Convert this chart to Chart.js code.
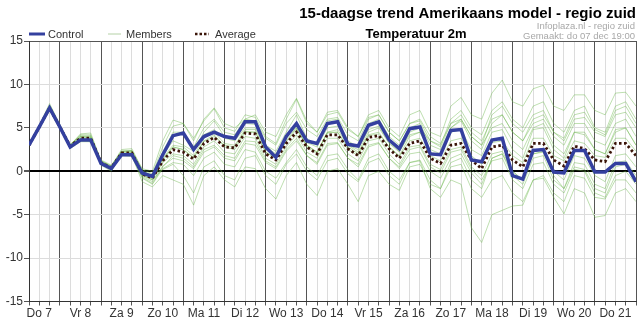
<!DOCTYPE html>
<html>
<head>
<meta charset="utf-8">
<script src="https://cdn.jsdelivr.net/npm/chart.js@4/dist/chart.umd.min.js"></script>
<style>
  html, body { margin: 0; padding: 0; background: #fff; }
  canvas { display: block; }
</style>
</head>
<body>
<canvas id="chart" width="640" height="323"></canvas>
<script>
// day labels, one per day (centred at noon)
const dayLabels = ['Do 7', 'Vr 8', 'Za 9', 'Zo 10', 'Ma 11', 'Di 12', 'Wo 13', 'Do 14',
  'Vr 15', 'Za 16', 'Zo 17', 'Ma 18', 'Di 19', 'Wo 20', 'Do 21'];

// 6-hourly values, first point do 7 06:00
const control = [3.0, 5.1, 7.3, 5.1, 2.8, 3.6, 3.6, 0.9, 0.3, 1.9, 1.9, -0.2, -0.6, 1.9, 4.1, 4.4, 2.5, 4.0, 4.5, 4.0,
  3.8, 5.7, 5.7, 2.8, 1.6, 4.0, 5.5, 3.5, 3.2, 5.5, 5.7, 3.1, 2.9, 5.3, 5.7, 3.6, 2.6, 4.9, 5.1, 2.0,
  1.9, 4.7, 4.8, 1.3, 1.1, 3.6, 3.8, -0.5, -0.9, 2.4, 2.5, -0.1, -0.2, 2.4, 2.4, -0.1, -0.1, 0.9, 0.9, -1.2];

const average = [3.0, 5.1, 7.3, 5.1, 2.9, 3.8, 3.8, 1.0, 0.4, 2.1, 2.1, -0.3, -0.8, 1.2, 2.5, 2.2, 1.4, 3.2, 3.9, 2.8,
  2.7, 4.4, 4.3, 2.0, 1.3, 3.2, 4.5, 2.8, 2.0, 4.2, 4.2, 2.6, 1.8, 3.9, 4.1, 2.6, 1.5, 3.2, 3.5, 1.5,
  0.9, 3.0, 3.2, 1.3, 0.3, 2.8, 3.0, 1.3, 0.5, 3.2, 3.2, 1.3, 0.6, 2.9, 2.6, 1.3, 1.1, 3.2, 3.2, 1.8];

const member01 = [3.0, 5.2, 7.6, 5.3, 3.0, 4.3, 4.4, 1.2, 0.6, 2.5, 2.6, 0.2, -0.3, 2.8, 5.2, 5.5, 3.8, 5.8, 7.2, 5.0,
  4.6, 6.5, 6.2, 4.0, 3.2, 6.0, 8.3, 5.5, 4.5, 6.5, 6.8, 4.8, 4.0, 6.5, 7.0, 5.0, 4.0, 6.5, 7.0, 4.5,
  4.0, 7.5, 8.5, 6.5, 6.0, 9.0, 10.5, 8.0, 7.5, 9.5, 9.9, 7.5, 7.0, 8.8, 8.8, 7.0, 6.5, 9.0, 9.1, 7.5];
const member02 = [2.9, 5.0, 7.1, 5.0, 2.7, 3.5, 3.4, 0.8, 0.1, 1.8, 1.7, -0.8, -1.5, 0.3, 1.0, 0.8, -0.5, 1.5, 2.2, 0.8,
  0.5, 2.5, 2.2, 0.0, -0.8, 1.0, 2.5, 0.5, -0.5, 1.8, 2.0, 0.2, -1.0, 1.5, 2.0, 0.0, -1.0, 1.0, 1.2, -2.0,
  -3.0, -1.0, -1.5, -6.5, -8.2, -5.0, -4.5, -4.0, -3.9, -1.0, -0.5, -2.5, -3.5, -0.5, -0.8, -3.0, -3.2, -1.0, -1.0, -2.5];
const member03 = [3.0, 5.0, 7.2, 5.0, 2.8, 3.6, 3.5, 0.7, 0.0, 1.9, 1.8, -1.2, -1.8, -0.5, -1.0, -1.5, -3.9, -0.5, 0.5, -1.0,
  -1.8, 0.5, 0.3, -2.0, -3.2, -0.5, 1.0, -1.5, -2.8, 0.0, 0.3, -1.5, -3.5, -0.5, 0.0, -1.5, -2.2, 0.5, 0.8, -1.5,
  -2.0, 1.0, 1.5, -1.0, -2.0, 1.5, 2.0, -0.5, -1.5, 1.5, 1.8, -1.0, -2.0, 1.0, 0.8, -1.5, -2.0, 1.0, 1.2, -0.5];
const member04 = [3.1, 5.3, 7.8, 5.4, 3.1, 4.1, 4.0, 1.3, 0.7, 2.3, 2.4, 0.0, -0.5, 1.8, 3.5, 3.0, 2.3, 4.5, 5.8, 4.0,
  3.8, 5.5, 5.4, 3.0, 2.3, 4.5, 6.5, 3.8, 3.0, 5.8, 6.0, 3.5, 2.8, 5.5, 6.0, 4.0, 3.0, 5.0, 5.5, 3.0,
  2.5, 5.0, 6.0, 4.0, 3.0, 6.5, 7.5, 5.5, 4.5, 6.5, 7.0, 4.5, 3.5, 6.0, 6.2, 4.5, 4.0, 6.5, 6.8, 5.0];
const member05 = [2.9, 4.9, 7.0, 4.9, 2.6, 3.4, 3.4, 0.9, 0.2, 1.9, 2.0, -0.6, -1.2, 0.6, 1.5, 1.2, 0.3, 2.2, 2.8, 1.5,
  1.2, 3.2, 3.0, 1.0, 0.3, 2.3, 3.5, 1.8, 0.8, 3.0, 3.2, 1.5, 0.5, 2.8, 3.2, 1.5, 0.3, 2.0, 2.2, 0.0,
  -0.8, 1.5, 2.0, -0.2, -1.5, 1.5, 2.0, 0.0, -1.0, 2.0, 2.3, 0.0, -1.0, 1.8, 1.5, -0.5, -1.2, 1.8, 2.0, 0.5];
const member06 = [3.0, 5.1, 7.4, 5.2, 2.8, 3.9, 3.9, 1.0, 0.3, 2.0, 2.2, -0.2, -0.7, 2.0, 4.0, 4.3, 2.8, 4.2, 4.8, 3.8,
  3.5, 5.0, 5.0, 2.8, 2.0, 4.0, 5.2, 3.3, 2.8, 5.0, 5.2, 3.0, 2.5, 4.8, 5.2, 3.3, 2.3, 4.2, 4.5, 2.2,
  1.8, 4.5, 4.8, 2.5, 1.8, 4.5, 4.8, 2.5, 1.5, 4.8, 5.0, 2.5, 1.5, 4.5, 4.2, 2.5, 2.0, 4.8, 5.0, 3.0];
const member07 = [3.0, 5.0, 7.3, 5.1, 2.9, 3.7, 3.7, 0.9, 0.3, 2.1, 2.0, -0.4, -1.0, 0.2, 0.8, -0.5, -2.5, 0.5, 1.2, -0.5,
  -1.0, 1.5, 1.8, -0.5, -1.5, 0.8, 2.0, 0.0, -1.0, 1.2, 1.5, -0.3, -1.2, 1.0, 1.5, -0.5, -1.5, 1.0, 1.3, -1.0,
  -2.0, 0.5, 0.8, -2.0, -3.0, -1.0, -0.5, -2.5, -3.5, -1.0, -0.8, -3.0, -4.9, -2.0, -2.5, -5.3, -5.1, -2.5, -2.0, -3.5];
const member08 = [3.0, 5.1, 7.5, 5.2, 3.0, 4.0, 4.1, 1.1, 0.5, 2.2, 2.3, -0.1, -0.6, 1.5, 3.0, 2.8, 1.8, 3.8, 4.5, 3.2,
  3.0, 4.8, 4.8, 2.5, 1.8, 3.8, 5.0, 3.0, 2.2, 4.5, 4.8, 3.0, 2.2, 4.5, 5.0, 3.2, 2.2, 4.5, 5.0, 3.5,
  3.0, 6.0, 7.0, 5.0, 4.2, 7.0, 8.0, 6.0, 5.0, 7.5, 8.0, 5.5, 4.5, 7.0, 7.5, 5.0, 4.5, 7.5, 8.0, 6.0];
const member09 = [3.0, 5.1, 7.2, 5.0, 2.8, 3.7, 3.6, 0.9, 0.4, 2.0, 2.1, -0.3, -0.9, 1.0, 2.0, 1.8, 0.8, 2.8, 3.5, 2.2,
  2.0, 4.0, 3.8, 1.5, 0.8, 2.8, 4.2, 2.2, 1.5, 3.8, 3.8, 2.0, 1.2, 3.5, 3.8, 2.0, 0.8, 2.8, 3.0, 0.8,
  0.2, 2.5, 2.8, 0.5, -0.5, 2.0, 2.3, 0.0, -1.0, 2.0, 2.2, -0.5, -2.0, 0.5, 0.2, -2.0, -2.5, 0.5, 0.8, -1.0];
const member10 = [3.0, 5.2, 7.5, 5.2, 3.0, 4.0, 3.9, 1.2, 0.6, 2.3, 2.4, 0.3, 0.0, 3.5, 5.9, 5.5, 3.5, 6.0, 7.3, 5.5,
  5.0, 6.0, 5.8, 3.8, 3.0, 5.5, 6.8, 4.8, 4.0, 6.0, 6.2, 4.2, 3.5, 6.0, 6.5, 4.5, 3.5, 5.5, 6.0, 4.0,
  3.2, 5.5, 6.5, 4.5, 3.5, 6.0, 6.5, 4.5, 3.5, 5.5, 6.0, 4.0, 3.0, 5.5, 5.5, 3.5, 3.0, 5.5, 6.0, 4.0];
const member11 = [2.9, 5.0, 7.1, 5.0, 2.8, 3.5, 3.6, 0.8, 0.2, 2.0, 1.9, -0.5, -1.0, 1.2, 2.8, 2.5, 1.5, 3.5, 4.2, 2.8,
  2.5, 4.5, 4.5, 2.2, 1.5, 3.5, 5.0, 2.8, 2.0, 4.5, 4.5, 2.5, 1.8, 4.2, 4.5, 2.8, 1.8, 4.0, 4.5, 2.5,
  2.0, 5.0, 5.8, 3.5, 2.5, 5.5, 6.5, 4.5, 3.5, 6.0, 6.5, 4.5, 3.8, 6.5, 6.8, 4.8, 4.2, 7.0, 7.5, 5.5];
const member12 = [3.0, 5.0, 7.2, 5.1, 2.8, 3.6, 3.7, 0.9, 0.2, 1.9, 1.9, -0.7, -1.4, 0.5, 1.8, 1.5, 0.5, 2.5, 3.0, 1.8,
  1.5, 3.5, 3.4, 1.2, 0.5, 2.5, 3.8, 1.8, 1.0, 3.2, 3.3, 1.5, 0.8, 3.0, 3.3, 1.5, 0.5, 2.5, 2.8, 0.5,
  -0.2, 2.2, 2.5, 0.2, -1.0, 1.2, 1.5, -1.0, -2.0, 0.8, 1.0, -1.5, -2.5, 0.2, 0.0, -2.5, -3.0, -0.5, 0.0, -1.5];
const member13 = [3.0, 5.1, 7.3, 5.0, 2.9, 3.8, 3.8, 1.0, 0.4, 2.1, 2.1, -0.3, -0.8, 1.4, 2.8, 2.5, 1.6, 3.4, 4.0, 3.0,
  2.8, 4.6, 4.5, 2.2, 1.5, 3.4, 4.8, 3.0, 2.2, 4.4, 4.5, 2.8, 2.0, 4.1, 4.3, 2.8, 1.7, 3.5, 3.8, 1.8,
  1.2, 3.5, 3.8, 1.8, 0.8, 3.3, 3.5, 1.8, 1.0, 3.8, 3.8, 1.8, 1.2, 3.5, 3.2, 1.8, 1.6, 3.8, 3.8, 2.3];
const member14 = [3.1, 5.2, 7.6, 5.3, 3.0, 4.2, 4.2, 1.1, 0.5, 2.3, 2.3, 0.0, -0.4, 2.2, 4.5, 4.5, 2.8, 5.0, 6.0, 4.5,
  4.2, 6.0, 6.5, 4.5, 4.0, 6.5, 8.4, 5.8, 4.5, 6.8, 7.0, 5.0, 4.0, 6.2, 6.5, 4.5, 3.5, 5.5, 5.8, 3.5,
  2.8, 5.5, 6.0, 4.0, 3.0, 5.0, 5.5, 3.5, 2.5, 5.0, 5.5, 3.0, 2.0, 4.5, 4.5, 2.5, 2.0, 4.5, 5.0, 3.0];

const members = [member01, member02, member03, member04, member05, member06, member07,
  member08, member09, member10, member11, member12, member13, member14];

// x positions in hours since do 7 00:00, one point every 6 hours
const hours = control.map((_, i) => 6 + 6 * i);
const toPoints = arr => arr.map((v, i) => ({ x: hours[i], y: v }));

Chart.defaults.font.family = '"Liberation Sans", Arial, sans-serif';

// header: title, source, subtitle and the legend
const headerPlugin = {
  id: 'header',
  afterDraw(chart) {
    const ctx = chart.ctx;
    ctx.save();
    ctx.textBaseline = 'alphabetic';

    ctx.fillStyle = '#000';
    ctx.textAlign = 'right';
    ctx.font = 'bold 15px "Liberation Sans", Arial, sans-serif';
    ctx.fillText('15-daagse trend Amerikaans model - regio zuid', 636, 18);

    ctx.fillStyle = '#a8a8a8';
    ctx.font = '9.5px "Liberation Sans", Arial, sans-serif';
    ctx.fillText('Infoplaza.nl - regio zuid', 635, 29);
    ctx.fillText('Gemaakt: do 07 dec 19:00', 635, 39);

    ctx.fillStyle = '#000';
    ctx.textAlign = 'center';
    ctx.font = 'bold 13px "Liberation Sans", Arial, sans-serif';
    ctx.fillText('Temperatuur 2m', 416, 38);

    // legend
    const ly = 34;
    ctx.lineCap = 'butt';
    ctx.strokeStyle = '#34409f';
    ctx.lineWidth = 3;
    ctx.beginPath(); ctx.moveTo(29, ly); ctx.lineTo(45, ly); ctx.stroke();

    ctx.strokeStyle = 'rgba(150,190,130,0.7)';
    ctx.lineWidth = 1;
    ctx.beginPath(); ctx.moveTo(108, ly); ctx.lineTo(121, ly); ctx.stroke();

    ctx.strokeStyle = '#3a1408';
    ctx.lineWidth = 2.5;
    ctx.setLineDash([2.5, 2]);
    ctx.beginPath(); ctx.moveTo(195, ly); ctx.lineTo(209, ly); ctx.stroke();
    ctx.setLineDash([]);

    ctx.fillStyle = '#333';
    ctx.textAlign = 'left';
    ctx.font = '11px "Liberation Sans", Arial, sans-serif';
    ctx.fillText('Control', 48, 38);
    ctx.fillText('Members', 126, 38);
    ctx.fillText('Average', 215, 38);
    ctx.restore();
  }
};

const datasets = [
  {
    label: 'Control',
    data: toPoints(control),
    borderColor: '#34409f',
    borderWidth: 3.5,
    pointRadius: 0,
    tension: 0
  },
  {
    label: 'Average',
    data: toPoints(average),
    borderColor: '#3a1408',
    borderWidth: 2.8,
    borderDash: [2.5, 2.5],
    pointRadius: 0,
    tension: 0
  }
];
members.forEach((m, k) => {
  datasets.push({
    label: 'Member ' + (k + 1),
    data: toPoints(m),
    borderColor: 'rgba(110,185,80,0.45)',
    borderWidth: 1,
    pointRadius: 0,
    tension: 0
  });
});

new Chart(document.getElementById('chart'), {
  type: 'line',
  data: { datasets },
  options: {
    responsive: false,
    animation: false,
    layout: { padding: { top: 41, right: 4, left: 0, bottom: 0 } },
    plugins: {
      legend: { display: false },
      tooltip: { enabled: false }
    },
    scales: {
      x: {
        type: 'linear',
        min: 6,
        max: 360,
        afterBuildTicks: scale => { scale.ticks = hours.map(v => ({ value: v })); },
        afterFit: scale => { scale.height = 21.5; },
        ticks: {
          autoSkip: false,
          maxRotation: 0,
          padding: 1,
          color: '#333',
          font: { size: 12 },
          callback: v => (v % 24 === 12 ? dayLabels[(v - 12) / 24] : '')
        },
        grid: {
          color: c => (c.tick && c.tick.value % 24 === 0 ? '#555' : '#dcdcdc'),
          tickColor: '#555',
          tickLength: 4
        },
        border: { color: '#333' }
      },
      y: {
        min: -15,
        max: 15,
        afterFit: scale => { scale.width = 29; },
        ticks: {
          stepSize: 5,
          padding: 1,
          color: '#333',
          font: { size: 12 }
        },
        grid: {
          color: c => {
            if (!c.tick) return '#dcdcdc';
            if (c.tick.value === 0) return '#000';
            if (c.tick.value === 15) return '#555';
            return '#dcdcdc';
          },
          lineWidth: c => (c.tick && c.tick.value === 0 ? 2 : 1),
          tickColor: '#555',
          tickLength: 5
        },
        border: { color: '#333' }
      }
    }
  },
  plugins: [headerPlugin]
});
</script>
</body>
</html>
